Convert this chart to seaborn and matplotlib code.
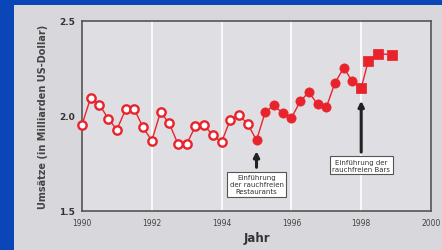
import pandas as pd
import matplotlib.pyplot as plt
import seaborn as sns
from matplotlib.patches import Rectangle

# Umsätze pro Quartal (in Milliarden US-Dollar)
jahre = [1990.0, 1990.25, 1990.5, 1990.75, 1991.0, 1991.25, 1991.5, 1991.75,
         1992.0, 1992.25, 1992.5, 1992.75, 1993.0, 1993.25, 1993.5, 1993.75,
         1994.0, 1994.25, 1994.5, 1994.75, 1995.0, 1995.25, 1995.5, 1995.75,
         1996.0, 1996.25, 1996.5, 1996.75, 1997.0, 1997.25, 1997.5, 1997.75,
         1998.0, 1998.2, 1998.47, 1998.87]
umsaetze = [1.954, 2.097, 2.060, 1.986, 1.928, 2.035, 2.035, 1.940,
            1.870, 2.021, 1.961, 1.853, 1.853, 1.946, 1.951, 1.898,
            1.863, 1.981, 2.004, 1.958, 1.872, 2.021, 2.056, 2.014,
            1.989, 2.077, 2.126, 2.061, 2.046, 2.175, 2.253, 2.182,
            2.147, 2.288, 2.328, 2.323]
phase = ["vorher"] * 20 + ["restaurants"] * 12 + ["bars"] * 4

rot = "#e8232b"
df = pd.DataFrame({"Jahr": jahre, "Umsatz": umsaetze, "Phase": phase})

sns.set_style("white")
plt.rcParams['font.family'] = ['DejaVu Sans']

fig = plt.figure(figsize=(4.42, 2.51), dpi=100)
fig.patch.set_facecolor("#0a46b8")
fig.patches.append(Rectangle((14 / 442, 0), 1, 1 - 6 / 251, transform=fig.transFigure,
                             facecolor="#d8d8dc", edgecolor="none", zorder=-10))
ax = fig.add_axes([82 / 442, 1 - 212 / 251, (431 - 82) / 442, (212 - 22) / 251])
ax.set_facecolor("#dfdfe3")

for x in [1992, 1994, 1996, 1998]:
    ax.axvline(x, color="white", lw=1.2, zorder=1)

sns.lineplot(data=df, x="Jahr", y="Umsatz", color=rot, lw=1, ax=ax, zorder=2)
vorher = df[df.Phase == "vorher"]
ax.plot(vorher.Jahr, vorher.Umsatz, "o", ls="none", ms=6, mfc="white", mec=rot,
        mew=1.7, zorder=3, clip_on=False)
sns.scatterplot(data=df[df.Phase == "restaurants"], x="Jahr", y="Umsatz", color=rot,
                s=44, edgecolor=rot, ax=ax, zorder=3)
sns.scatterplot(data=df[df.Phase == "bars"], x="Jahr", y="Umsatz", color=rot, marker="s",
                s=44, edgecolor=rot, ax=ax, zorder=3)

ax.set_xlim(1990, 2000)
ax.set_ylim(1.5, 2.5)
ax.set_xticks([1990, 1992, 1994, 1996, 1998, 2000])
ax.set_yticks([1.5, 2.0, 2.5])
ax.tick_params(axis="x", labelsize=5.5, colors="#444444", length=3, width=1, pad=2)
ax.tick_params(axis="y", labelsize=6.5, colors="#333333", length=4, width=1, pad=1)
for lab in ax.get_yticklabels():
    lab.set_fontweight("bold")
for s in ax.spines.values():
    s.set_color("#555555")
    s.set_linewidth(1.2)

ax.set_xlabel("Jahr", fontsize=8.5, fontweight="bold", color="#333333", labelpad=3)
ax.set_ylabel("Umsätze (in Milliarden US-Dollar)", fontsize=7, fontweight="bold",
              color="#444444", labelpad=8)

box = dict(boxstyle="square,pad=0.35", facecolor="white", edgecolor="#555555", lw=0.8)
pfeil = dict(arrowstyle="-|>", color="#222222", lw=2.2, mutation_scale=8, shrinkA=0, shrinkB=0)
ax.annotate("", xy=(1995, 1.815), xytext=(1995, 1.73), arrowprops=pfeil)
ax.text(1995, 1.64, "Einführung\nder rauchfreien\nRestaurants", ha="center", va="center",
        fontsize=5, color="#333333", linespacing=1.2, bbox=box)
ax.annotate("", xy=(1998, 2.08), xytext=(1998, 1.81), arrowprops=pfeil)
ax.text(1998, 1.74, "Einführung der\nrauchfreien Bars", ha="center", va="center",
        fontsize=5, color="#333333", linespacing=1.2, bbox=box)

fig.savefig("out.png", dpi=100, facecolor=fig.get_facecolor())
